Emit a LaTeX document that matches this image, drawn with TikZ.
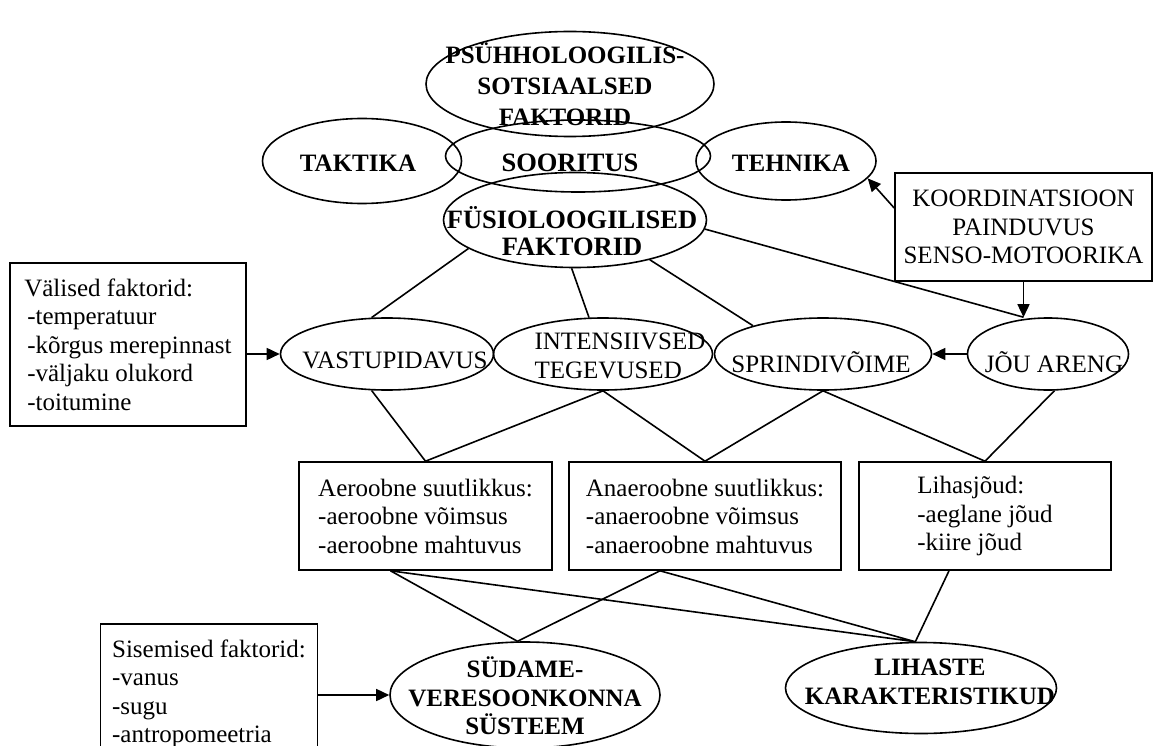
\documentclass[tikz,border=0pt]{standalone}
\usepackage{fontspec}
\setmainfont{Liberation Serif}
\usepackage{tikz}
\usetikzlibrary{positioning,shapes,arrows.meta}

\begin{document}
\begin{tikzpicture}[x=1pt,y=-1pt,line width=1.6pt,
  font=\fontsize{25}{28.5}\selectfont,
  oval/.style={draw,ellipse,inner sep=0pt},
  bold/.style={font=\fontsize{25}{28.5}\selectfont\bfseries,align=center},
  big/.style={font=\fontsize{26.5}{27}\selectfont\bfseries,align=center},
  box/.style={draw,rectangle,inner sep=0pt,align=left},
  arr/.style={-{Triangle[length=13pt,width=12pt]}}]
\useasboundingbox (0,0) rectangle (1153,746);

% top row
\node[oval,minimum width=288pt,minimum height=105pt] (psy) at (570,84) {};
\node[bold,font=\fontsize{25}{31}\selectfont\bfseries] (psyt) at (565,84) {PSÜHHOLOOGILIS-\\SOTSIAALSED\\FAKTORID};
\node[oval,minimum width=199pt,minimum height=85pt] (takt) at (362,161) {};
\node[bold] (taktt) at (358,163) {TAKTIKA};
\node[oval,minimum width=265pt,minimum height=72pt] (soor) at (578,156) {};
\node[big] (soort) at (570,163) {SOORITUS};
\node[oval,minimum width=180pt,minimum height=78pt] (tehn) at (786,161) {};
\node[bold] (tehnt) at (791,163) {TEHNIKA};
\node[oval,minimum width=263pt,minimum height=95pt] (fysio) at (575,220) {};
\node[big] (fysiot) at (572,231) {FÜSIOLOOGILISED\\FAKTORID};

% side boxes
\node[box,minimum width=257pt,minimum height=108pt,align=center] (koord) at (1023.5,227) {KOORDINATSIOON\\PAINDUVUS\\SENSO-MOTOORIKA};
\node[box,minimum width=236pt,minimum height=163pt] (valised) at (128,344.5) {Välised faktorid:\\\hspace{3pt}-temperatuur\\\hspace{3pt}-kõrgus merepinnast\\\hspace{3pt}-väljaku olukord\\\hspace{3pt}-toitumine};
\node[box,minimum width=217pt,minimum height=140pt] (sisem) at (209,694) {Sisemised faktorid:\\-vanus\\-sugu\\-antropomeetria};

% middle row
\node[oval,minimum width=213pt,minimum height=72pt] (vast) at (387,354) {};
\node (vastt) at (395,360) {VASTUPIDAVUS};
\node[oval,minimum width=219pt,minimum height=72pt] (intens) at (603,354) {};
\node[align=left] (intenst) at (620,356) {INTENSIIVSED\\TEGEVUSED};
\node[oval,minimum width=217pt,minimum height=72pt] (sprint) at (823,354) {};
\node (sprintt) at (821,362) {SPRINDIVÕIME};
\node[oval,minimum width=161pt,minimum height=72pt] (joud) at (1048,354) {};
\node (joudt) at (1054,362) {JÕU ARENG};

% capacity boxes
\node[box,minimum width=253pt,minimum height=108pt] (aero) at (425.5,516) {Aeroobne suutlikkus:\\-aeroobne võimsus\\-aeroobne mahtuvus};
\node[box,minimum width=272pt,minimum height=108pt] (anaero) at (705,516) {Anaeroobne suutlikkus:\\-anaeroobne võimsus\\-anaeroobne mahtuvus};
\node[box,minimum width=252pt,minimum height=108pt] (lihas) at (985,516) {Lihasjõud:\\-aeglane jõud\\-kiire jõud};

% bottom row
\node[oval,minimum width=270pt,minimum height=106pt] (syda) at (525,695) {};
\node[bold] (sydat) at (525,696) {SÜDAME-\\VERESOONKONNA\\SÜSTEEM};
\node[oval,minimum width=271pt,minimum height=91pt] (lihaste) at (921,688) {};
\node[bold] (lihastet) at (930,682) {LIHASTE\\KARAKTERISTIKUD};

% arrows
\coordinate (jtop) at (koord.south |- joud.north);
\draw[arr] ([yshift=19pt]koord.west) -- (tehn.-12);
\draw[arr] (koord.south) -- (jtop);
\draw[arr] (joud.west) -- (sprint.east);
\draw[arr] (valised.east |- vast.west) -- (vast.west);
\draw[arr] (sisem.east |- syda.west) -- (syda.west);

% lines
\draw (fysio.195) -- (vast.113);
\draw (fysio.-94) -- (intens.111);
\draw (fysio.-28) -- (sprint.158);
\draw (fysio.-4) -- (jtop);
\draw (vast.-113) -- (aero.north);
\draw (intens.south) -- (aero.north);
\draw (intens.south) -- (anaero.north);
\draw (sprint.south) -- (anaero.north);
\draw (sprint.south) -- (lihas.north);
\draw (joud.-80) -- (lihas.north);
\coordinate (aerob) at ([xshift=-35pt]aero.south);
\coordinate (anaerob) at ([xshift=-45pt]anaero.south);
\coordinate (lihasb) at ([xshift=-36pt]lihas.south);
\draw (aerob) -- (syda.98) (anaerob) -- (syda.98);
\draw (aerob) -- (lihaste.97) (anaerob) -- (lihaste.97) (lihasb) -- (lihaste.97);
\end{tikzpicture}
\end{document}
